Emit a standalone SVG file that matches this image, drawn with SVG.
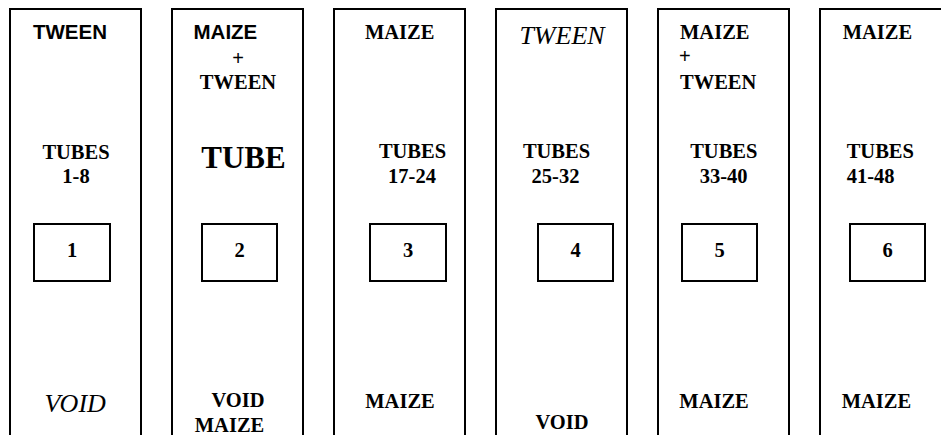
<svg xmlns="http://www.w3.org/2000/svg" width="941" height="435" viewBox="0 0 941 435">
<style>
.col{fill:#fff;stroke:#000;stroke-width:2}
.box{fill:#fff;stroke:#000;stroke-width:2}
.a{font-family:"Liberation Sans",Arial,sans-serif;font-weight:bold;font-size:20.5px;fill:#000}
.t{font-family:"Liberation Serif","Times New Roman",serif;font-weight:bold;font-size:20.5px;fill:#000}
.i{font-family:"Liberation Serif","Times New Roman",serif;font-style:italic;font-size:26px;fill:#000}
.p{font-family:"Liberation Sans",Arial,sans-serif;font-size:20px;fill:#000}
.big{font-family:"Liberation Serif","Times New Roman",serif;font-weight:bold;font-size:31px;fill:#000}
.c{text-anchor:middle}
</style>
<g id="col1">
<rect class="col" x="10" y="9" width="131" height="440"/>
<text class="a" x="33" y="39">TWEEN</text>
<text class="t c" x="76" y="158.5">TUBES</text>
<text class="t c" x="76" y="182.5">1-8</text>
<rect class="box" x="34" y="224" width="76" height="57"/>
<text class="t c" x="72" y="256.5">1</text>
<text class="i" x="44.5" y="411.5">VOID</text>
</g>
<g id="col2">
<rect class="col" x="172" y="9" width="131" height="440"/>
<text class="a" x="193.5" y="39">MAIZE</text>
<text class="p c" x="238" y="65">+</text>
<text class="t c" x="238" y="89">TWEEN</text>
<text class="big c" x="243.5" y="168">TUBE</text>
<rect class="box" x="202" y="224" width="75" height="57"/>
<text class="t c" x="239.5" y="256.5">2</text>
<text class="t c" x="238" y="407">VOID</text>
<text class="t c" x="229.5" y="431.5">MAIZE</text>
</g>
<g id="col3">
<rect class="col" x="334" y="9" width="131" height="440"/>
<text class="t c" x="399.7" y="39">MAIZE</text>
<text class="t c" x="412.5" y="158">TUBES</text>
<text class="t c" x="412" y="182.5">17-24</text>
<rect class="box" x="370" y="224" width="76" height="57"/>
<text class="t c" x="408" y="256.5">3</text>
<text class="t c" x="400" y="407.5">MAIZE</text>
</g>
<g id="col4">
<rect class="col" x="496" y="9" width="131" height="440"/>
<text class="i c" x="562" y="44">TWEEN</text>
<text class="t c" x="556.5" y="158">TUBES</text>
<text class="t c" x="555.5" y="182.5">25-32</text>
<rect class="box" x="538" y="224" width="75" height="57"/>
<text class="t c" x="575.5" y="256.5">4</text>
<text class="t c" x="562" y="429">VOID</text>
</g>
<g id="col5">
<rect class="col" x="658" y="9" width="131" height="440"/>
<text class="t" x="680" y="39">MAIZE</text>
<text class="p" x="679" y="63">+</text>
<text class="t" x="680" y="89">TWEEN</text>
<text class="t c" x="723.8" y="158">TUBES</text>
<text class="t c" x="723.7" y="182.5">33-40</text>
<rect class="box" x="682" y="224" width="75" height="57"/>
<text class="t c" x="719.5" y="256.5">5</text>
<text class="t" x="679.3" y="407.5">MAIZE</text>
</g>
<g id="col6">
<rect class="col" x="820" y="9" width="131" height="440"/>
<text class="t" x="842.7" y="39">MAIZE</text>
<text class="t" x="846.7" y="158">TUBES</text>
<text class="t" x="846.7" y="182.5">41-48</text>
<rect class="box" x="850" y="224" width="75" height="57"/>
<text class="t c" x="887.5" y="256.5">6</text>
<text class="t" x="841.7" y="407.5">MAIZE</text>
</g>
<g id="connectors"/>
</svg>
